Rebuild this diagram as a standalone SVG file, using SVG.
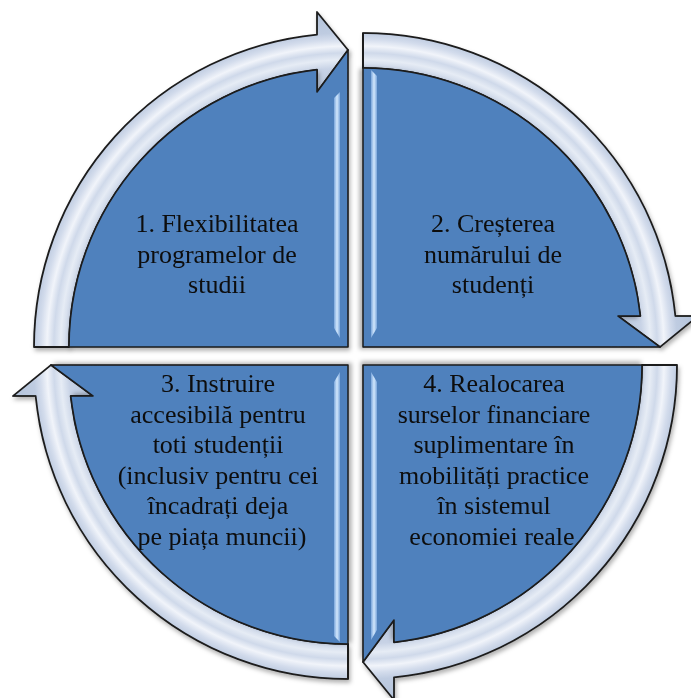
<svg xmlns="http://www.w3.org/2000/svg" xmlns:xlink="http://www.w3.org/1999/xlink" width="691" height="698" viewBox="0 0 691 698">
<style>
.pie{fill:#4f81bd;stroke:#1c1c1c;stroke-width:1.6;stroke-linejoin:round}
.arr{fill:url(#arrGrad);stroke:#1c1c1c;stroke-width:1.8;stroke-linejoin:round}
.lbl{font-size:26px;fill:#0d0d0d;text-anchor:middle}
.hl{fill:url(#stripe)}
</style>
<defs>
<filter id="sh" x="-10%" y="-10%" width="120%" height="120%">
<feDropShadow dx="1.5" dy="3" stdDeviation="2" flood-color="#000" flood-opacity="0.3"/>
</filter>
<radialGradient id="arrGrad" gradientUnits="userSpaceOnUse" cx="0" cy="0" r="340">
<stop offset="0.75" stop-color="#b6c5dc"/>
<stop offset="0.82" stop-color="#c8d3e6"/>
<stop offset="0.845" stop-color="#e6ecf5"/>
<stop offset="0.865" stop-color="#cfd9ea"/>
<stop offset="0.885" stop-color="#f1f4fa"/>
<stop offset="0.905" stop-color="#d3dcec"/>
<stop offset="0.924" stop-color="#bfcce1"/>
<stop offset="1" stop-color="#b0c0d8"/>
</radialGradient>
<linearGradient id="stripe" x1="0" y1="0" x2="1" y2="0">
<stop offset="0" stop-color="#7aa6dc"/>
<stop offset="0.5" stop-color="#d2e7fc"/>
<stop offset="1" stop-color="#7aa6dc"/>
</linearGradient>
<path id="arrowShape" class="arr" d="M-314,0 A314,314 0 0 1 -31,-312.47 L-31,-335 L0,-297 L-31,-255 L-31,-277.27 A279,279 0 0 0 -279,0 Z"/>
<path id="pieShape" class="pie" d="M0,0 L-279,0 A279,279 0 0 1 -31,-277.27 L-31,-255 L0,-297 Z"/>
</defs>

<g id="connectors" filter="url(#sh)">
<use xlink:href="#arrowShape" transform="translate(348,347)"/>
<use xlink:href="#arrowShape" transform="translate(363,347) rotate(90)"/>
<use xlink:href="#arrowShape" transform="translate(363,365) rotate(180)"/>
<use xlink:href="#arrowShape" transform="translate(348,365) rotate(270)"/>
</g>

<g id="node1" font-family="Liberation Serif, Times New Roman, serif">
<use xlink:href="#pieShape" transform="translate(348,347)" filter="url(#sh)"/>
<path class="hl" d="M334,98 L340,92 L340,338 L334,328 Z"/>
<text class="lbl" x="217" y="232">1. Flexibilitatea</text>
<text class="lbl" x="217" y="262.5">programelor de</text>
<text class="lbl" x="217" y="293">studii</text>
</g>

<g id="node2" font-family="Liberation Serif, Times New Roman, serif">
<use xlink:href="#pieShape" transform="translate(363,347) rotate(90)" filter="url(#sh)"/>
<path class="hl" d="M371,70 L377,76 L377,328 L371,338 Z"/>
<text class="lbl" x="493" y="232">2. Creșterea</text>
<text class="lbl" x="493" y="262.5">numărului de</text>
<text class="lbl" x="493" y="293">studenți</text>
</g>

<g id="node3" font-family="Liberation Serif, Times New Roman, serif">
<use xlink:href="#pieShape" transform="translate(348,365) rotate(270)" filter="url(#sh)"/>
<path class="hl" d="M334,382 L340,372 L340,642 L334,636 Z"/>
<text class="lbl" x="218" y="392">3. Instruire</text>
<text class="lbl" x="218" y="422.5">accesibilă pentru</text>
<text class="lbl" x="218" y="453">toti studenții</text>
<text class="lbl" x="218" y="483.5">(inclusiv pentru cei</text>
<text class="lbl" x="218" y="514">încadrați deja</text>
<text class="lbl" x="222" y="544.5">pe piața muncii)</text>
</g>

<g id="node4" font-family="Liberation Serif, Times New Roman, serif">
<use xlink:href="#pieShape" transform="translate(363,365) rotate(180)" filter="url(#sh)"/>
<path class="hl" d="M371,372 L377,382 L377,630 L371,640 Z"/>
<text class="lbl" x="494" y="392">4. Realocarea</text>
<text class="lbl" x="494" y="422.5">surselor financiare</text>
<text class="lbl" x="494" y="453">suplimentare în</text>
<text class="lbl" x="494" y="483.5">mobilități practice</text>
<text class="lbl" x="494" y="514">în sistemul</text>
<text class="lbl" x="492" y="544.5">economiei reale</text>
</g>
</svg>
